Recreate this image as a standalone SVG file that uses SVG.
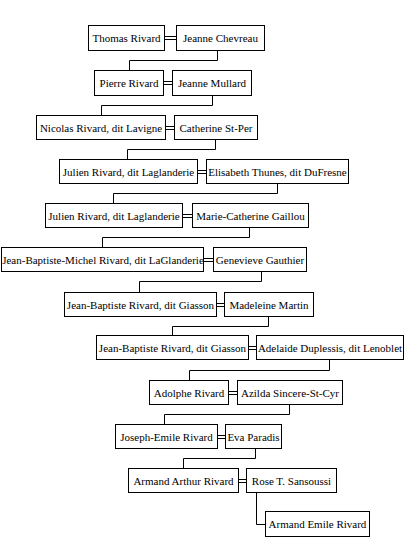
<svg xmlns="http://www.w3.org/2000/svg" width="405" height="539" viewBox="0 0 405 539">
<style>
rect{fill:#fff;stroke:#000;stroke-width:1}
text{font-family:"Liberation Serif","Times New Roman",serif;font-size:11px;fill:#000;text-anchor:middle}
.c{fill:none;stroke:#000;stroke-width:1}
</style>
<rect x="0" y="0" width="405" height="539" style="stroke:none"/>
<g id="connectors" class="c">
<path d="M164 36.5H176M164 39.5H176"/>
<path d="M163 81.5H172M163 84.5H172"/>
<path d="M165 126.5H174M165 129.5H174"/>
<path d="M197 170.5H206M197 173.5H206"/>
<path d="M182 214.5H192M182 217.5H192"/>
<path d="M203 258.5H213M203 261.5H213"/>
<path d="M216 303.5H224M216 306.5H224"/>
<path d="M248 346.5H256M248 349.5H256"/>
<path d="M228 391.5H237M228 394.5H237"/>
<path d="M217 435.5H225M217 438.5H225"/>
<path d="M238 479.5H246M238 482.5H246"/>
<path d="M217.5 51V60.5H129.5V70"/>
<path d="M212.5 96V105.5H101.5V115"/>
<path d="M215.5 140V149.5H127.5V159"/>
<path d="M277.5 184V193.5H113.5V203"/>
<path d="M249.5 228V237.5H102.5V247"/>
<path d="M261.5 272V281.5H139.5V292"/>
<path d="M268.5 317V326.5H172.5V335"/>
<path d="M329.5 360V370.5H189.5V380"/>
<path d="M289.5 405V414.5H164.5V424"/>
<path d="M255.5 449V458.5H183.5V468"/>
<path d="M256.5 493V524.5H265"/>
</g>
<g id="n1"><rect x="88.5" y="25.5" width="76" height="25"/><text x="126.5" y="42">Thomas Rivard</text></g>
<g id="n1s"><rect x="176.5" y="25.5" width="88" height="25"/><text x="220.5" y="42">Jeanne Chevreau</text></g>
<g id="n2"><rect x="94.5" y="70.5" width="69" height="25"/><text x="129" y="87">Pierre Rivard</text></g>
<g id="n2s"><rect x="172.5" y="70.5" width="79" height="25"/><text x="212" y="87">Jeanne Mullard</text></g>
<g id="n3"><rect x="36.5" y="115.5" width="129" height="24"/><text x="101" y="131.5">Nicolas Rivard, dit Lavigne</text></g>
<g id="n3s"><rect x="174.5" y="115.5" width="83" height="24"/><text x="216" y="131.5">Catherine St-Per</text></g>
<g id="n4"><rect x="59.5" y="159.5" width="138" height="24"/><text x="128.5" y="175.5">Julien Rivard, dit Laglanderie</text></g>
<g id="n4s"><rect x="206.5" y="159.5" width="142" height="24"/><text x="277.5" y="175.5">Elisabeth Thunes, dit DuFresne</text></g>
<g id="n5"><rect x="45.5" y="203.5" width="137" height="24"/><text x="114" y="219.5">Julien Rivard, dit Laglanderie</text></g>
<g id="n5s"><rect x="192.5" y="203.5" width="116" height="24"/><text x="250.5" y="219.5">Marie-Catherine Gaillou</text></g>
<g id="n6"><rect x="1.5" y="247.5" width="202" height="24"/><text x="103" y="263.5">Jean-Baptiste-Michel Rivard, dit LaGlanderie</text></g>
<g id="n6s"><rect x="213.5" y="247.5" width="93" height="24"/><text x="260" y="263.5">Genevieve Gauthier</text></g>
<g id="n7"><rect x="64.5" y="292.5" width="152" height="24"/><text x="140.5" y="308.5">Jean-Baptiste Rivard, dit Giasson</text></g>
<g id="n7s"><rect x="224.5" y="292.5" width="89" height="24"/><text x="269" y="308.5">Madeleine Martin</text></g>
<g id="n8"><rect x="96.5" y="335.5" width="152" height="24"/><text x="172.5" y="351.5">Jean-Baptiste Rivard, dit Giasson</text></g>
<g id="n8s"><rect x="256.5" y="335.5" width="147" height="24"/><text x="330" y="351.5">Adelaide Duplessis, dit Lenoblet</text></g>
<g id="n9"><rect x="149.5" y="380.5" width="79" height="24"/><text x="189" y="396.5">Adolphe Rivard</text></g>
<g id="n9s"><rect x="237.5" y="380.5" width="105" height="24"/><text x="290" y="396.5">Azilda Sincere-St-Cyr</text></g>
<g id="n10"><rect x="115.5" y="424.5" width="102" height="24"/><text x="166.5" y="440.5">Joseph-Emile Rivard</text></g>
<g id="n10s"><rect x="225.5" y="424.5" width="56" height="24"/><text x="253.5" y="440.5">Eva Paradis</text></g>
<g id="n11"><rect x="128.5" y="468.5" width="110" height="24"/><text x="183.5" y="484.5">Armand Arthur Rivard</text></g>
<g id="n11s"><rect x="246.5" y="468.5" width="90" height="24"/><text x="291.5" y="484.5">Rose T. Sansoussi</text></g>
<g id="n12"><rect x="265.5" y="511.5" width="104" height="25"/><text x="317.5" y="528">Armand Emile Rivard</text></g>
</svg>
